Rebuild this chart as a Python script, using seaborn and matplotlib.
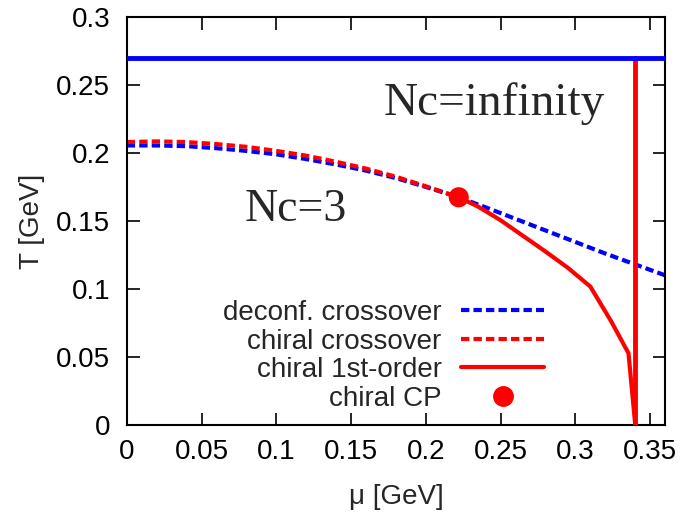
import numpy as np
import matplotlib
matplotlib.use("Agg")
import matplotlib.pyplot as plt
from matplotlib.lines import Line2D
import seaborn as sns
import pandas as pd

# Nc=3 phase diagram
deconf_mu = [0.0, 0.02, 0.04, 0.06, 0.08, 0.10, 0.12, 0.14, 0.16, 0.18, 0.20, 0.222,
             0.24, 0.26, 0.28, 0.30, 0.32, 0.34, 0.36]
deconf_T = [0.2055, 0.2055, 0.205, 0.2035, 0.2015, 0.199, 0.1955, 0.1915, 0.187, 0.1815,
            0.175, 0.1674, 0.160, 0.1515, 0.143, 0.1345, 0.126, 0.118, 0.110]

chiral_co_mu = [0.0, 0.02, 0.04, 0.06, 0.08, 0.10, 0.12, 0.14, 0.16, 0.18, 0.20, 0.222]
chiral_co_T = [0.208, 0.2085, 0.208, 0.2065, 0.2045, 0.2015, 0.198, 0.1935, 0.1885,
               0.1825, 0.1755, 0.1674]

chiral_1st_mu = [0.222, 0.235, 0.25, 0.265, 0.28, 0.295, 0.31, 0.324, 0.3355, 0.34]
chiral_1st_T = [0.1674, 0.1605, 0.1505, 0.139, 0.1275, 0.1155, 0.1017, 0.076, 0.0527, 0.0]

cp_mu = [0.222]
cp_T = [0.1674]

# Nc=infinity: deconfinement at fixed T, chiral transition at fixed mu
ncinf_deconf_mu = [0.0, 0.36]
ncinf_deconf_T = [0.27, 0.27]
ncinf_chiral_mu = [0.34, 0.34]
ncinf_chiral_T = [0.0, 0.27]

x_ticks = [0, 0.05, 0.1, 0.15, 0.2, 0.25, 0.3, 0.35]
y_ticks = [0, 0.05, 0.1, 0.15, 0.2, 0.25, 0.3]

sns.set_style("ticks")
plt.rcParams['font.family'] = ['Liberation Sans', 'DejaVu Sans']

fig, ax = plt.subplots(figsize=(6.85, 5.15), dpi=100)
fig.subplots_adjust(left=0.185, right=0.971, bottom=0.175, top=0.967)

dash = (2, 1)
deconf_frame = pd.DataFrame({'mu': deconf_mu, 'T': deconf_T})
chiral_co_frame = pd.DataFrame({'mu': chiral_co_mu, 'T': chiral_co_T})
chiral_1st_frame = pd.DataFrame({'mu': chiral_1st_mu, 'T': chiral_1st_T})

sns.lineplot(x='mu', y='T', data=deconf_frame, ax=ax, color='#0000ff', lw=3,
             sort=False, estimator=None)
ax.lines[-1].set_dashes(dash)
sns.lineplot(x='mu', y='T', data=chiral_co_frame, ax=ax, color='#ff0000', lw=3,
             sort=False, estimator=None)
ax.lines[-1].set_dashes(dash)
sns.lineplot(x='mu', y='T', data=chiral_1st_frame, ax=ax, color='#ff0000', lw=3,
             sort=False, estimator=None)

ax.plot(ncinf_chiral_mu, ncinf_chiral_T, color='#ff0000', lw=3.5, zorder=3)
ax.plot(ncinf_deconf_mu, ncinf_deconf_T, color='#0000ff', lw=3.5, zorder=4)

sns.scatterplot(x=cp_mu, y=cp_T, ax=ax, color='#ff0000', s=210, edgecolor='none', zorder=5)

ax.set_xlim(0, 0.36)
ax.set_ylim(0, 0.3)
ax.set_xticks(x_ticks)
ax.set_yticks(y_ticks)
ax.set_xticklabels([f"{t:g}" for t in x_ticks])
ax.set_yticklabels([f"{t:g}" for t in y_ticks])
ax.tick_params(direction='in', length=9, width=1.2, labelsize=20,
               top=True, right=True, colors='black')
ax.tick_params(axis='x', pad=10)
ax.tick_params(axis='y', pad=12)
for s in ax.spines.values():
    s.set_linewidth(1.5)
    s.set_color('black')

ax.set_xlabel('μ [GeV]', fontsize=20, labelpad=14)
ax.set_ylabel('T [GeV]', fontsize=20, labelpad=8)

ax.text(0.113, 0.158, 'Nc=3', family='Liberation Serif', fontsize=33,
        ha='center', va='center')
ax.text(0.246, 0.2365, 'Nc=infinity', family='Liberation Serif', fontsize=34,
        ha='center', va='center')

handles = [
    Line2D([], [], color='#0000ff', lw=3, dashes=dash),
    Line2D([], [], color='#ff0000', lw=3, dashes=dash),
    Line2D([], [], color='#ff0000', lw=3),
    Line2D([], [], color='#ff0000', lw=0, marker='o', markersize=14),
]
labels = ['deconf. crossover', 'chiral crossover', 'chiral 1st-order', 'chiral CP']
ax.legend(handles, labels, loc='lower right', bbox_to_anchor=(0.817, -0.022),
          frameon=False, markerfirst=False, fontsize=20, handlelength=3.0,
          labelspacing=0.09, handletextpad=0.7, borderpad=0.3)

fig.savefig('out.png', dpi=100)
